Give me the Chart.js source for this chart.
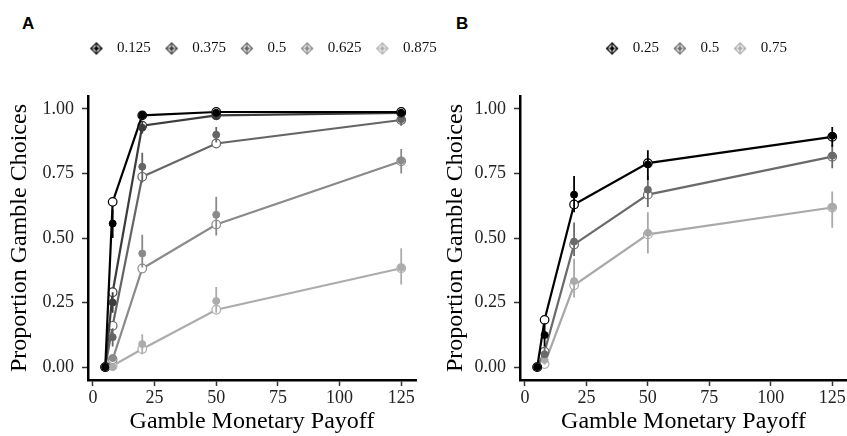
<!DOCTYPE html>
<html>
<head>
<meta charset="utf-8">
<script src="https://cdn.jsdelivr.net/npm/chart.js@4"></script>
<style>
  body{margin:0;width:847px;height:436px;overflow:hidden;position:relative;background:#fff;}
  .panel{position:absolute;top:0;}
  .tag{position:absolute;font:bold 17px "Liberation Sans",Arial,sans-serif;color:#000;}
</style>
</head>
<body>
<div class="tag" style="left:22px;top:14px">A</div>
<div class="tag" style="left:456px;top:14px">B</div>
<canvas id="chartA" class="panel" width="520" height="436" style="left:0"></canvas>
<canvas id="chartB" class="panel" width="514" height="436" style="left:436px"></canvas>
<script>
// shared axes
const payoff = [5, 8, 20, 50, 125];
const xTicks = [0, 25, 50, 75, 100, 125];
const yTicks = [0, 0.25, 0.5, 0.75, 1];

// panel A
const groupsA = ['0.125', '0.375', '0.5', '0.625', '0.875'];
const greysA = ['#000000', '#3c3c3c', '#656565', '#8a8a8a', '#acacac'];
const modelA = [
  [0, 0.64, 0.975, 0.988, 0.988],
  [0, 0.29, 0.935, 0.975, 0.985],
  [0, 0.16, 0.737, 0.866, 0.957],
  [0, 0.03, 0.382, 0.552, 0.797],
  [0, 0.005, 0.07, 0.222, 0.383]
];
const obsA = [
  [0, 0.556, 0.975, 0.985, 0.985],
  [0, 0.25, 0.927, 0.972, 0.98],
  [0, 0.116, 0.776, 0.90, 0.96],
  [0, 0.035, 0.44, 0.59, 0.80],
  [0, 0.0, 0.089, 0.256, 0.385]
];
const lowA = [
  [0, 0.50, 0.965, 0.978, 0.978],
  [0, 0.21, 0.905, 0.96, 0.97],
  [0, 0.08, 0.715, 0.87, 0.935],
  [0, 0.02, 0.386, 0.51, 0.75],
  [0, 0.0, 0.05, 0.21, 0.32]
];
const highA = [
  [0, 0.61, 0.985, 0.992, 0.992],
  [0, 0.29, 0.95, 0.985, 0.99],
  [0, 0.15, 0.83, 0.93, 0.985],
  [0, 0.05, 0.513, 0.66, 0.845],
  [0, 0.01, 0.127, 0.31, 0.46]
];

// panel B
const groupsB = ['0.25', '0.5', '0.75'];
const greysB = ['#000000', '#6a6a6a', '#a9a9a9'];
const modelB = [
  [0, 0.183, 0.63, 0.79, 0.892],
  [0, 0.06, 0.475, 0.668, 0.815],
  [0, 0.012, 0.317, 0.514, 0.618]
];
const obsB = [
  [0, 0.124, 0.668, 0.785, 0.896],
  [0, 0.05, 0.486, 0.687, 0.819],
  [0, 0.028, 0.333, 0.52, 0.62]
];
const lowB = [
  [0, 0.08, 0.60, 0.725, 0.853],
  [0, 0.03, 0.43, 0.62, 0.77],
  [0, 0.01, 0.27, 0.44, 0.54]
];
const highB = [
  [0, 0.17, 0.74, 0.84, 0.93],
  [0, 0.08, 0.56, 0.74, 0.86],
  [0, 0.05, 0.42, 0.60, 0.68]
];

const serif = '"Liberation Serif", "Times New Roman", serif';

// legend key: pointrange + line overlay, looks like a small crossed diamond
function keyGlyph(color){
  const c = document.createElement('canvas');
  c.width = 14; c.height = 14;
  const g = c.getContext('2d');
  g.strokeStyle = color; g.fillStyle = color; g.lineWidth = 1.2;
  g.beginPath();
  g.moveTo(7, 1.5); g.lineTo(12.5, 7); g.lineTo(7, 12.5); g.lineTo(1.5, 7); g.closePath();
  g.stroke();
  g.beginPath();
  g.moveTo(1, 7); g.lineTo(13, 7); g.moveTo(7, 1); g.lineTo(7, 13);
  g.stroke();
  g.beginPath(); g.arc(7, 7, 2, 0, Math.PI * 2); g.fill();
  return c;
}

function pts(vals){ return payoff.map((x, i) => ({x: x, y: vals[i]})); }
function bars(lo, hi){
  const out = [];
  payoff.forEach((x, i) => { out.push({x: x, y: lo[i]}, {x: x, y: hi[i]}, {x: x, y: null}); });
  return out;
}

function makePanel(id, groups, greys, model, obs, lo, hi, yAxisW, padRight){
  const ds = [];
  groups.forEach((g, i) => ds.push({
    label: g, data: pts(obs[i]), xAxisID: 'x', yAxisID: 'y',
    pointRadius: 3.5, pointBackgroundColor: greys[i], pointBorderColor: greys[i],
    borderColor: greys[i], showLine: false
  }));
  groups.forEach((g, i) => ds.push({
    label: g + ' range', data: bars(lo[i], hi[i]), xAxisID: 'x', yAxisID: 'y',
    showLine: true, spanGaps: false, pointRadius: 0, borderColor: greys[i], borderWidth: 1.8
  }));
  groups.forEach((g, i) => ds.push({
    label: g + ' model', data: pts(model[i]), xAxisID: 'x', yAxisID: 'y',
    showLine: true, borderColor: greys[i], borderWidth: 2.2, tension: 0,
    pointRadius: 4.3, pointBackgroundColor: '#fff', pointBorderColor: greys[i], pointBorderWidth: 1.2
  }));

  const n = groups.length;
  const hidden = {display: true, grid: {display: false}, border: {display: false}, ticks: {display: false}};

  return new Chart(document.getElementById(id), {
    type: 'scatter',
    data: {datasets: ds},
    options: {
      responsive: false,
      animation: false,
      layout: {padding: {top: 33, left: 0, right: 0, bottom: 0}},
      plugins: {
        tooltip: {enabled: false},
        legend: {
          position: 'top',
          align: 'center',
          labels: {
            usePointStyle: true,
            pointStyleWidth: 26,
            padding: 8,
            color: '#111',
            font: {family: serif, size: 15},
            filter: item => item.datasetIndex < n,
            generateLabels: chart => Chart.defaults.plugins.legend.labels.generateLabels(chart)
              .map(item => Object.assign(item, {pointStyle: keyGlyph(greys[item.datasetIndex] || '#000')}))
          }
        }
      },
      scales: {
        x: {
          type: 'linear', position: 'bottom', min: -2, max: 131,
          afterBuildTicks: s => { s.ticks = xTicks.map(v => ({value: v})); },
          afterFit: s => { s.height = 56; },
          border: {display: true, color: '#000', width: 2.5},
          grid: {display: true, drawOnChartArea: false, drawTicks: true, tickLength: 6, tickColor: '#333', tickWidth: 1.5},
          ticks: {color: '#222', padding: 1, font: {family: serif, size: 18}},
          title: {display: true, text: 'Gamble Monetary Payoff', color: '#000', padding: {top: 0, bottom: 0}, font: {family: serif, size: 24}}
        },
        y: {
          type: 'linear', position: 'left', min: -0.05, max: 1.05,
          afterBuildTicks: s => { s.ticks = yTicks.map(v => ({value: v})); },
          afterFit: s => { s.width = yAxisW; },
          border: {display: true, color: '#000', width: 2.5},
          grid: {display: true, drawOnChartArea: false, drawTicks: true, tickLength: 6, tickColor: '#333', tickWidth: 1.5},
          ticks: {color: '#222', padding: 8, font: {family: serif, size: 18}, callback: v => v.toFixed(2)},
          title: {display: true, text: 'Proportion Gamble Choices', color: '#000', padding: {top: 5, bottom: 0}, font: {family: serif, size: 24}}
        },
        // spacers so the legend can sit where the original has it
        padTop: Object.assign({type: 'linear', position: 'top', afterFit: s => { s.height = 30; }}, hidden),
        padRight: Object.assign({type: 'linear', position: 'right', afterFit: s => { s.width = padRight; }}, hidden)
      }
    }
  });
}

makePanel('chartA', groupsA, greysA, modelA, obsA, lowA, highA, 88, 104);
makePanel('chartB', groupsB, greysB, modelB, obsB, lowB, highB, 84, 103);
</script>
</body>
</html>
